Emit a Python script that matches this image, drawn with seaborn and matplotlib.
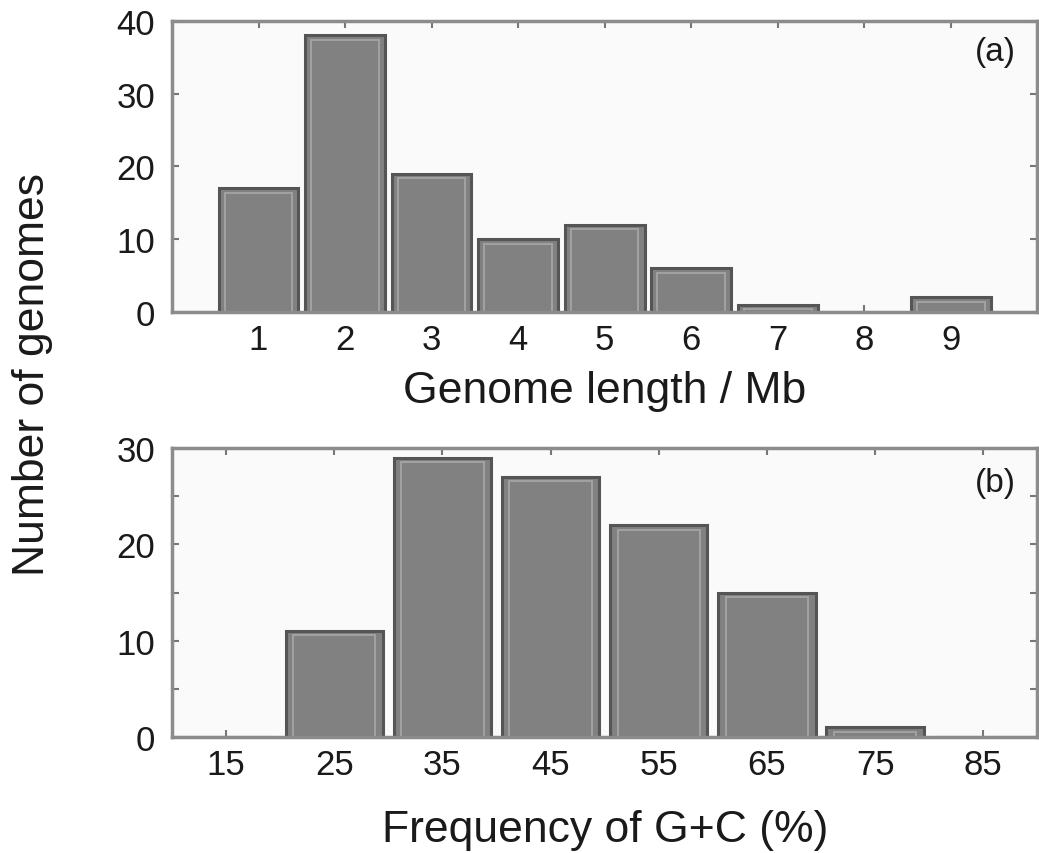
import matplotlib
matplotlib.use("Agg")
import matplotlib.pyplot as plt
from matplotlib.patches import Rectangle
import seaborn as sns

# (a) genome length histogram
length_bins = [1, 2, 3, 4, 5, 6, 7, 8, 9]
length_counts = [17, 38, 19, 10, 12, 6, 1, 0, 2]

# (b) G+C frequency histogram
gc_bins = [15, 25, 35, 45, 55, 65, 75, 85]
gc_counts = [0, 11, 29, 27, 22, 15, 1, 0]

sns.set_theme(style="ticks")
plt.rcParams['font.family'] = ['Liberation Sans', 'DejaVu Sans']

FILL = '#818181'
EDGE = '#555555'
INNER = '#a2a2a2'
FRAME = '#8c8c8c'
TXT = '#1a1a1a'


def bars(ax, x, y, width, inset_x, inset_y):
    sns.barplot(x=x, y=y, native_scale=True, width=width, color=FILL,
                saturation=1, edgecolor=EDGE, linewidth=2.2,
                errorbar=None, ax=ax)
    # lighter inner border, like the bevelled bars of the original
    for p in list(ax.patches):
        if p.get_height() <= 0:
            continue
        ax.add_patch(Rectangle((p.get_x() + inset_x, p.get_y()),
                               p.get_width() - 2 * inset_x,
                               p.get_height() - inset_y,
                               fill=False, edgecolor=INNER, linewidth=1.4,
                               zorder=p.get_zorder() + 0.1))


def style(ax):
    ax.set_facecolor('#fafafa')
    for s in ax.spines.values():
        s.set_color(FRAME)
        s.set_linewidth(2.5)
    ax.tick_params(axis='both', which='both', direction='in', top=True,
                   right=True, color='#777777', width=1.5, length=5,
                   labelsize=25, labelcolor=TXT)
    ax.tick_params(axis='x', pad=8)
    ax.tick_params(axis='y', pad=12)


fig = plt.figure(figsize=(10.39, 8.54), dpi=100)
fig.patch.set_facecolor('white')
ax1 = fig.add_axes([0.1655, 0.6335, 0.833, 0.341])
ax2 = fig.add_axes([0.1655, 0.136, 0.833, 0.338])

bars(ax1, length_bins, length_counts, 0.92, 0.07, 0.6)
ax1.set_xlim(0, 10)
ax1.set_ylim(0, 40)
ax1.set_xticks(length_bins)
ax1.set_yticks([0, 10, 20, 30, 40])
style(ax1)
ax1.set_xlabel('Genome length / Mb', fontsize=32, labelpad=10, color=TXT)
ax1.set_ylabel('')
ax1.text(0.951, 0.893, '(a)', transform=ax1.transAxes, fontsize=24,
         ha='center', va='center', color=TXT)

bars(ax2, gc_bins, gc_counts, 0.9, 0.7, 0.45)
ax2.set_xlim(10, 90)
ax2.set_ylim(0, 30)
ax2.set_xticks(gc_bins)
ax2.set_yticks([0, 10, 20, 30])
ax2.set_yticks([5, 15, 25], minor=True)
style(ax2)
ax2.set_xlabel('Frequency of G+C (%)', fontsize=32, labelpad=20, color=TXT)
ax2.set_ylabel('')
ax2.text(0.951, 0.882, '(b)', transform=ax2.transAxes, fontsize=24,
         ha='center', va='center', color=TXT)

fig.text(0.031, 0.562, 'Number of genomes', rotation=90, fontsize=32,
         ha='center', va='center', color=TXT)

fig.savefig('out.png', dpi=100)
